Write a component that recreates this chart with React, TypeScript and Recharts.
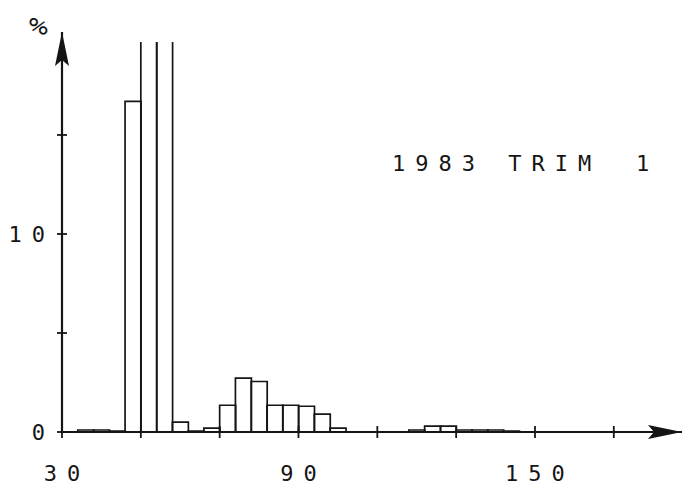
import React from "react";
import { BarChart, Bar, XAxis, YAxis } from "recharts";

// Histogram bins (lower edge, width 4) and percentage per bin
const binStarts = [30, 34, 38, 42, 46, 50, 54, 58, 62, 66, 70, 74, 78, 82, 86, 90, 94, 98, 102, 106, 110, 114, 118, 122, 126, 130, 134, 138, 142];
const percents = [0, 0.1, 0.1, 0.05, 16.7, 19.7, 19.7, 0.5, 0.05, 0.2, 1.35, 2.72, 2.55, 1.35, 1.35, 1.3, 0.9, 0.2, 0, 0, 0, 0, 0.1, 0.3, 0.3, 0.1, 0.1, 0.1, 0.05];
const binWidth = 4;
const clipLevel = 19.7; // bars that ran off the top of the plotter page

const xTicks = [30, 50, 70, 90, 110, 130, 150, 170];
const xTickLabels = [30, 90, 150];
const yTicks = [0, 5, 10, 15];
const yTickLabels = [0, 10];
const titleMain = "1983 TRIM";
const titleNum = "1";
const yUnit = "%";

const data = binStarts.map((s, i) => ({ mid: s + binWidth / 2, pct: percents[i] }));

const INK = "#151515";
const FONT = "'DejaVu Sans Mono', 'Liberation Mono', monospace";
const FS = 22;
const LS = 10;

const XTick = (props: any) => {
  const { x, y, payload } = props;
  const show = xTickLabels.includes(payload.value);
  return (
    <g>
      <line x1={x} y1={y - 6} x2={x} y2={y + 6} stroke={INK} strokeWidth={1.8} />
      {show && (
        <text x={x} y={y + 49} dx={LS / 2} textAnchor="middle" fontFamily={FONT} fontSize={FS} letterSpacing={LS} fill={INK}>
          {payload.value}
        </text>
      )}
    </g>
  );
};

const YTick = (props: any) => {
  const { x, y, payload } = props;
  const show = yTickLabels.includes(payload.value);
  return (
    <g>
      <line x1={x - 5} y1={y} x2={x + 5} y2={y} stroke={INK} strokeWidth={1.8} />
      {show && (
        <text x={x - 7} y={y + 8} textAnchor="end" fontFamily={FONT} fontSize={FS} letterSpacing={LS} fill={INK}>
          {payload.value}
        </text>
      )}
    </g>
  );
};

const HistBar = (props: any) => {
  const { x, y, width, height, value } = props;
  if (!height || height <= 0) return null;
  const v = Array.isArray(value) ? value[1] : value;
  const bottom = y + height;
  const d = v >= clipLevel
    ? `M${x},${bottom} V${y} M${x + width},${y} V${bottom}`
    : `M${x},${bottom} V${y} H${x + width} V${bottom}`;
  return <path d={d} fill="none" stroke={INK} strokeWidth={1.7} />;
};

export default function App() {
  return (
    <div style={{ position: "absolute", left: 0, top: 0, width: 685, height: 489, background: "#fff" }}>
      <BarChart
        width={685}
        height={489}
        data={data}
        margin={{ top: 32, right: 3, left: 61, bottom: 56 }}
        barCategoryGap={0}
        barGap={0}
      >
        <defs>
          <marker id="arrowX" markerUnits="userSpaceOnUse" markerWidth={36} markerHeight={16} refX={34} refY={8} orient="auto">
            <path d="M0,1 L34,8 L0,15 L6,8 Z" fill={INK} />
          </marker>
          <marker id="arrowY" markerUnits="userSpaceOnUse" markerWidth={36} markerHeight={16} refX={34} refY={8} orient="auto-start-reverse">
            <path d="M0,1 L34,8 L0,15 L6,8 Z" fill={INK} />
          </marker>
        </defs>
        <XAxis
          dataKey="mid"
          type="number"
          domain={[30, 187.3]}
          ticks={xTicks}
          interval={0}
          height={1}
          tickSize={0}
          tickMargin={0}
          tickLine={false}
          allowDataOverflow
          axisLine={{ stroke: INK, strokeWidth: 2.2, markerEnd: "url(#arrowX)" }}
          tick={XTick}
        />
        <YAxis
          type="number"
          domain={[0, 20.2]}
          ticks={yTicks}
          interval={0}
          width={1}
          tickSize={0}
          tickMargin={0}
          tickLine={false}
          allowDataOverflow
          axisLine={{ stroke: INK, strokeWidth: 2.2, markerStart: "url(#arrowY)" }}
          tick={YTick}
        />
        <Bar dataKey="pct" isAnimationActive={false} shape={HistBar} />
        <text x={392} y={171} fontFamily={FONT} fontSize={FS} letterSpacing={LS} fill={INK} style={{ whiteSpace: "pre" }}>
          {titleMain}
        </text>
        <text x={636} y={171} fontFamily={FONT} fontSize={FS} letterSpacing={LS} fill={INK}>
          {titleNum}
        </text>
        <text x={30} y={35} fontFamily={FONT} fontSize={27} fill={INK} transform="rotate(-15 41 25)">
          {yUnit}
        </text>
      </BarChart>
    </div>
  );
}
